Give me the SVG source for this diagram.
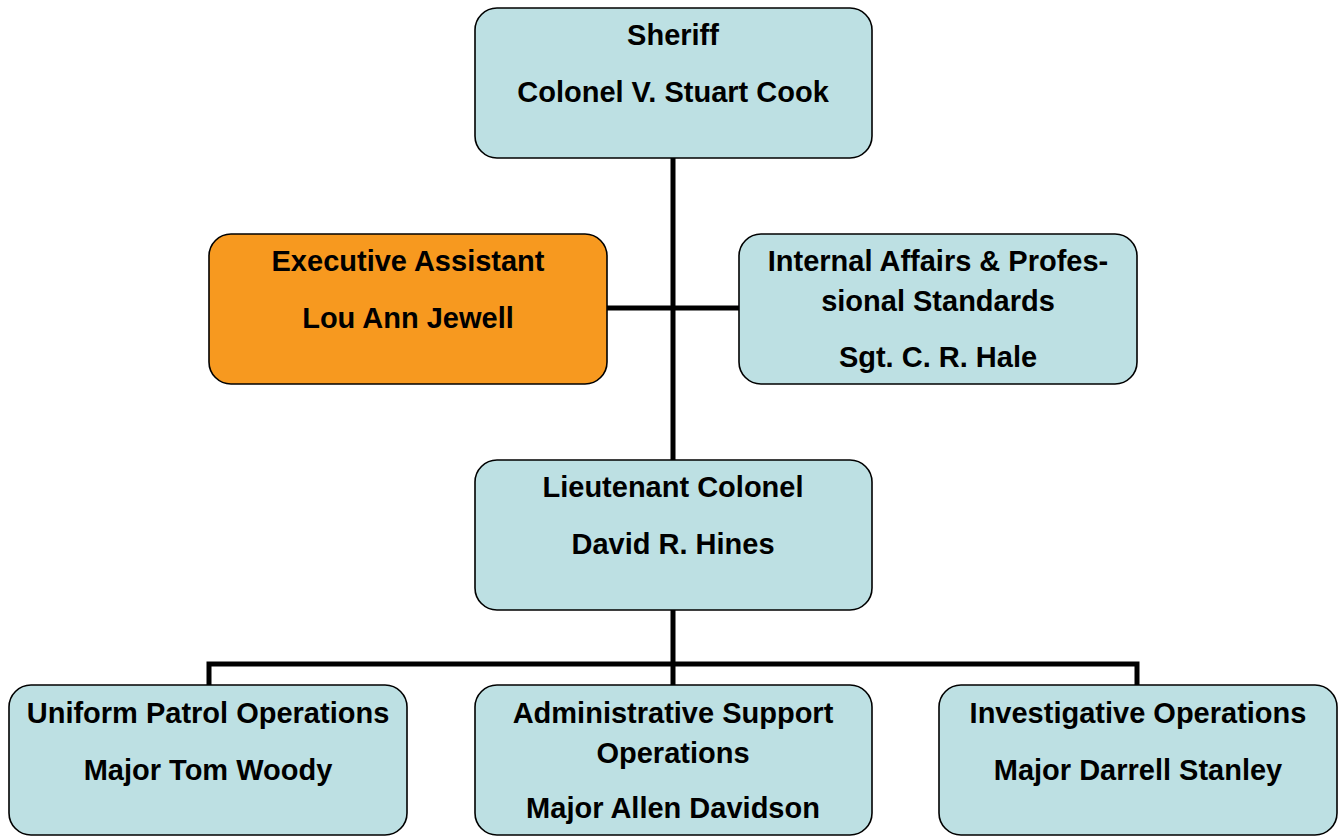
<svg xmlns="http://www.w3.org/2000/svg" width="1340" height="836" viewBox="0 0 1340 836">
<style>
.box{fill:#bde0e3;stroke:#000;stroke-width:1.6}
.orange{fill:#f7991f}
.t{font-family:"Liberation Sans",Arial,sans-serif;font-weight:bold;font-size:29px;text-anchor:middle;fill:#000}
.c{stroke:#000;stroke-width:5;fill:none;stroke-linecap:square}
</style>
<rect width="1340" height="836" fill="#fff"/>
<g id="connectors">
<line class="c" x1="673" y1="158" x2="673" y2="460"/>
<line class="c" x1="607" y1="308" x2="739" y2="308"/>
<line class="c" x1="673" y1="610" x2="673" y2="685"/>
<polyline class="c" points="209,685 209,664 1137,664 1137,685"/>
</g>
<g id="sheriff">
<rect class="box" x="475" y="8" width="397" height="150" rx="22"/>
<text class="t" x="673" y="45">Sheriff</text>
<text class="t" x="673" y="102">Colonel V. Stuart Cook</text>
</g>
<g id="exec">
<rect class="box orange" x="209" y="234" width="398" height="150" rx="22"/>
<text class="t" x="408" y="271">Executive Assistant</text>
<text class="t" x="408" y="328">Lou Ann Jewell</text>
</g>
<g id="internal">
<rect class="box" x="739" y="234" width="398" height="150" rx="22"/>
<text class="t" x="938" y="271">Internal Affairs &amp; Profes-</text>
<text class="t" x="938" y="311">sional Standards</text>
<text class="t" x="938" y="367">Sgt. C. R. Hale</text>
</g>
<g id="ltcol">
<rect class="box" x="475" y="460" width="397" height="150" rx="22"/>
<text class="t" x="673" y="497">Lieutenant Colonel</text>
<text class="t" x="673" y="554">David R. Hines</text>
</g>
<g id="uniform">
<rect class="box" x="9" y="685" width="398" height="150" rx="22"/>
<text class="t" x="208" y="723">Uniform Patrol Operations</text>
<text class="t" x="208" y="780">Major Tom Woody</text>
</g>
<g id="admin">
<rect class="box" x="475" y="685" width="397" height="150" rx="22"/>
<text class="t" x="673" y="723">Administrative Support</text>
<text class="t" x="673" y="763">Operations</text>
<text class="t" x="673" y="818">Major Allen Davidson</text>
</g>
<g id="invest">
<rect class="box" x="939" y="685" width="398" height="150" rx="22"/>
<text class="t" x="1138" y="723">Investigative Operations</text>
<text class="t" x="1138" y="780">Major Darrell Stanley</text>
</g>
</svg>
